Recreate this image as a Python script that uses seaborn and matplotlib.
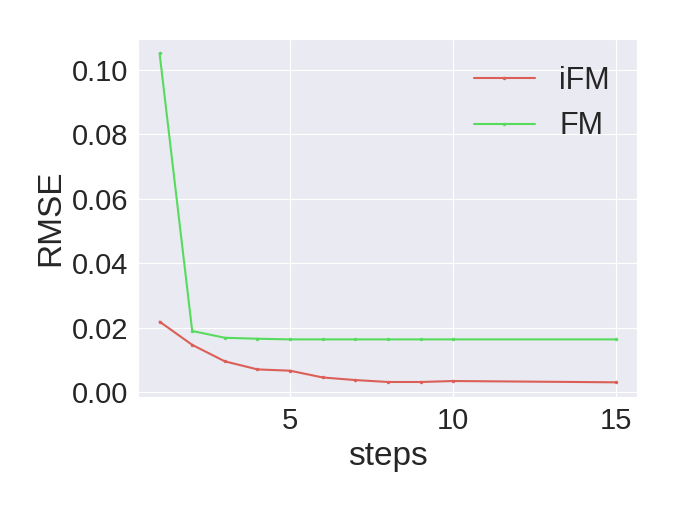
import numpy as np
import pandas as pd
import matplotlib
matplotlib.use('Agg')
import matplotlib.pyplot as plt
import seaborn as sns

# valores
steps = [1, 2, 3, 4, 5, 6, 7, 8, 9, 10, 15]
rmse_ifm = [0.0219, 0.0147, 0.0096, 0.0071, 0.0067, 0.0046, 0.0038, 0.0032, 0.0032, 0.0035, 0.0031]
rmse_fm = [0.1050, 0.0190, 0.0169, 0.0166, 0.0164, 0.0164, 0.0164, 0.0164, 0.0164, 0.0164, 0.0164]

sns.set_style('darkgrid')
plt.rcParams['font.family'] = ['Liberation Sans', 'DejaVu Sans']

cores = sns.color_palette('hls', 3)

fig = plt.figure(figsize=(6.75, 5.07), dpi=100)
ax = fig.add_axes([0.205, 0.216, 0.739, 0.708])

sns.lineplot(x=steps, y=rmse_ifm, ax=ax, color=cores[0], marker='.', markersize=5,
             markeredgewidth=0, linewidth=1.5, label='iFM')
sns.lineplot(x=steps, y=rmse_fm, ax=ax, color=cores[1], marker='.', markersize=5,
             markeredgewidth=0, linewidth=1.5, label='FM')

ax.set_xlabel('steps', fontsize=24)
ax.set_ylabel('RMSE', fontsize=24)
ax.set_xticks([5, 10, 15])
ax.set_yticks([0.0, 0.02, 0.04, 0.06, 0.08, 0.10])
ax.set_yticklabels(['0.00', '0.02', '0.04', '0.06', '0.08', '0.10'])
ax.tick_params(labelsize=21)
ax.set_xlim(0.35, 15.64)
ax.set_ylim(-0.0016, 0.1096)
ax.legend(fontsize=22, frameon=False, loc='upper right')

fig.savefig('out.png', dpi=100)
